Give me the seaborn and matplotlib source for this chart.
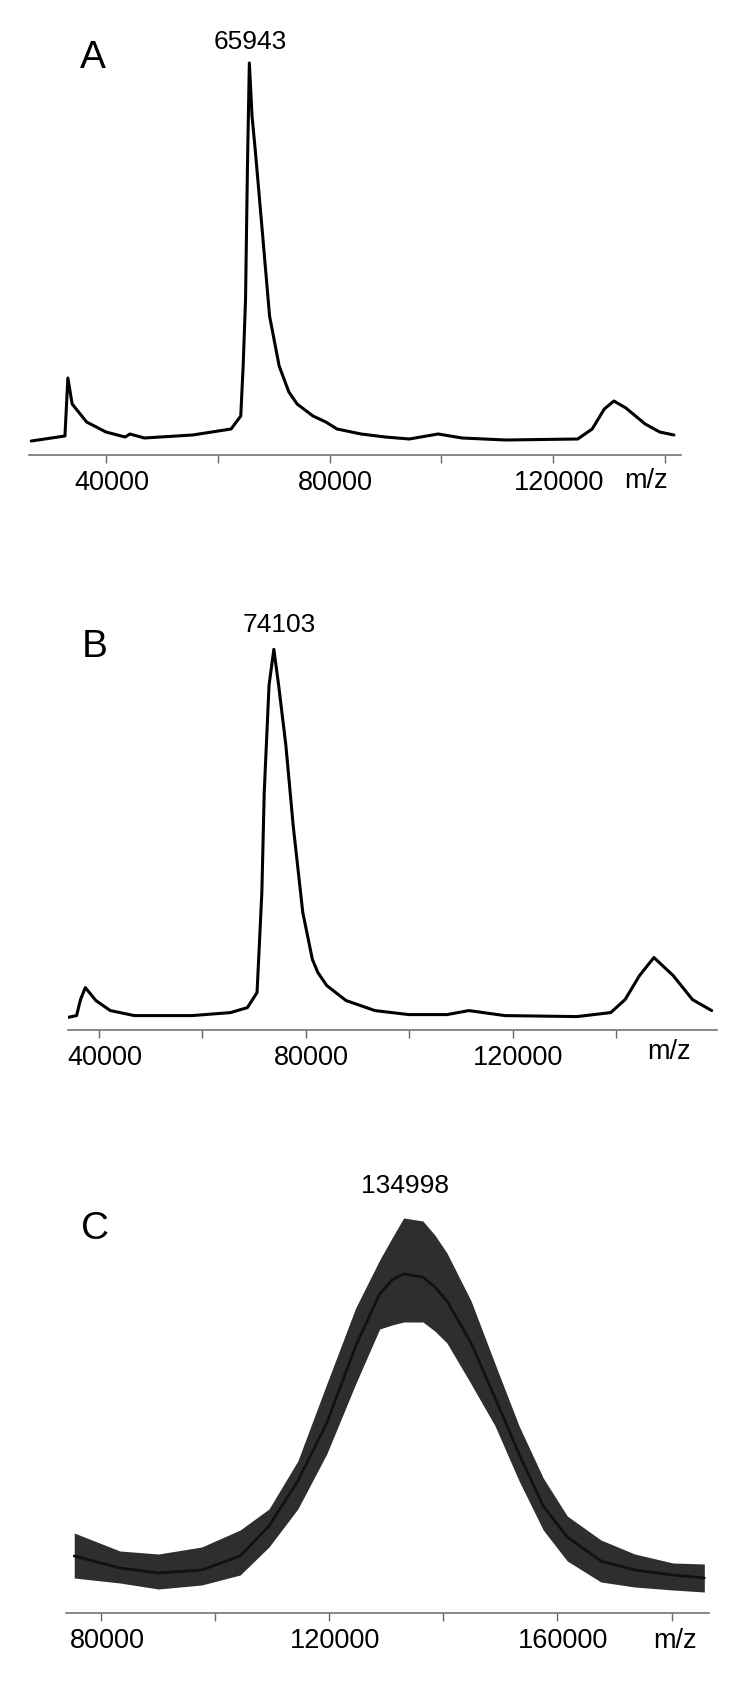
import matplotlib
matplotlib.use("Agg")
import matplotlib.pyplot as plt
import matplotlib.transforms as mtransforms
import seaborn as sns
import numpy as np
import pandas as pd

# Panel A spectrum (m/z, intensity in arbitrary units)
mz_a = [26560, 32590, 33110, 33880, 36470, 39930, 43370, 44230, 46820, 55450,
        62350, 64080, 64510, 64940, 65280, 65620, 66100, 66660, 67950, 69240,
        70960, 72700, 74180, 77010, 79320, 81320, 85640, 89950, 94270, 99440,
        103740, 111510, 124440, 127030, 129200, 130920, 133070, 136520, 139120, 141680]
int_a = [0, 5, 63, 37, 19, 9, 4, 7, 3, 6,
         12, 25, 75, 142, 275, 378, 325, 292, 209, 125,
         75, 49, 37, 25, 19, 12, 7, 4, 2, 7,
         3, 1, 2, 12, 32, 40, 33, 17, 9, 6]

# Panel B spectrum
mz_b = [33800, 35660, 36420, 37350, 39400, 42190, 46830, 58000, 65460, 68710,
        70570, 71500, 71960, 72890, 73820, 74750, 76150, 77560, 79420, 81280,
        82340, 84060, 87800, 93380, 99900, 107330, 111530, 118500, 132460, 138990,
        141770, 144560, 147350, 151070, 154800, 158520]
int_b = [0, 2, 18, 30, 17, 7, 2, 2, 5, 10,
         25, 125, 225, 332, 368, 332, 272, 192, 105, 58,
         45, 32, 17, 7, 3, 3, 7, 2, 1, 5,
         18, 42, 60, 42, 18, 7]

# Panel C spectrum: centre trace and noise envelope
mz_c = [75280, 83300, 90050, 97630, 104380, 109430, 114480, 119550, 124620, 128830,
        131000, 133040, 136410, 138500, 140630, 144860, 149070, 153280, 157510, 161720,
        167630, 173530, 180260, 185750]
mid_c = [57, 45, 40, 43, 57, 87, 132, 190, 267, 319,
         333, 339, 336, 326, 312, 270, 215, 159, 107, 76,
         52, 43, 38, 35]
hi_c = [80, 62, 59, 66, 83, 104, 152, 229, 305, 353,
        375, 395, 392, 378, 360, 312, 249, 187, 135, 97,
        73, 59, 50, 49]
lo_c = [35, 30, 24, 28, 38, 66, 104, 159, 229, 284,
        288, 291, 291, 282, 270, 229, 187, 132, 83, 52,
        31, 26, 23, 21]

peak_labels = ["65943", "74103", "134998"]
panel_letters = ["A", "B", "C"]

sns.set_theme(style="white")
plt.rcParams["font.family"] = ["Liberation Sans", "DejaVu Sans"]
plt.rcParams["text.color"] = "black"
plt.rcParams["xtick.color"] = "black"

W, H = 750, 1690
fig = plt.figure(figsize=(W / 100, H / 100), dpi=100)


def px_axes(left, right, top, bottom):
    return fig.add_axes([left / W, 1 - bottom / H, (right - left) / W, (bottom - top) / H])


def style_axis(ax, ticks, labels):
    sns.despine(ax=ax, left=True, top=True, right=True)
    ax.spines["bottom"].set_color("#666666")
    ax.spines["bottom"].set_linewidth(1.1)
    ax.set_yticks([])
    ax.set_xticks(ticks)
    ax.set_xticklabels(labels)
    ax.tick_params(axis="x", direction="out", length=6, width=1.0, color="#666666",
                   labelcolor="black", labelsize=19.5, pad=4, bottom=True)
    shift = mtransforms.ScaledTranslation(6 / 100, 0, fig.dpi_scale_trans)
    for lab in ax.get_xticklabels():
        lab.set_transform(lab.get_transform() + shift)
    ax.set_xlabel("")
    ax.set_ylabel("")
    ax.set_facecolor("white")


# Panel A
ax_a = px_axes(29, 681, 40, 456)
sns.lineplot(x=mz_a, y=int_a, ax=ax_a, color="black", linewidth=2.2)
ax_a.set_xlim(26150, 142940)
ax_a.set_ylim(-14, 402)
style_axis(ax_a, [40000, 60000, 80000, 100000, 120000, 140000],
           ["40000", "", "80000", "", "120000", ""])

# Panel B
ax_b = px_axes(68, 717, 600, 1031)
sns.lineplot(x=mz_b, y=int_b, ax=ax_b, color="black", linewidth=2.2)
ax_b.set_xlim(34000, 159550)
ax_b.set_ylim(-12.4, 418.3)
style_axis(ax_b, [40000, 60000, 80000, 100000, 120000, 140000],
           ["40000", "", "80000", "", "120000", ""])

# Panel C: median line with min-max band from the envelope
df_c = pd.DataFrame({
    "mz": mz_c * 3,
    "intensity": mid_c + hi_c + lo_c,
})
ax_c = px_axes(66, 709, 1170, 1614)
sns.lineplot(data=df_c, x="mz", y="intensity", ax=ax_c, color="#111111",
             linewidth=2.0, estimator="median", errorbar=("pi", 100),
             err_kws={"alpha": 0.88, "linewidth": 0})
ax_c.set_xlim(73840, 186570)
ax_c.set_ylim(0, 444)
style_axis(ax_c, [80000, 100000, 120000, 140000, 160000, 180000],
           ["80000", "", "120000", "", "160000", ""])

# Labels
for letter, (x, y) in zip(panel_letters, [(93, 58), (95, 647), (95, 1229)]):
    fig.text(x / W, 1 - y / H, letter, fontsize=28, ha="center", va="center")
for lab, (x, y) in zip(peak_labels, [(250, 42), (279, 625), (405, 1186)]):
    fig.text(x / W, 1 - y / H, lab, fontsize=19, ha="center", va="center")
for x, y in [(646, 481), (669, 1052), (675, 1641)]:
    fig.text(x / W, 1 - y / H, "m/z", fontsize=19.5, ha="center", va="center")

fig.savefig("out.png", dpi=100, facecolor="white")
